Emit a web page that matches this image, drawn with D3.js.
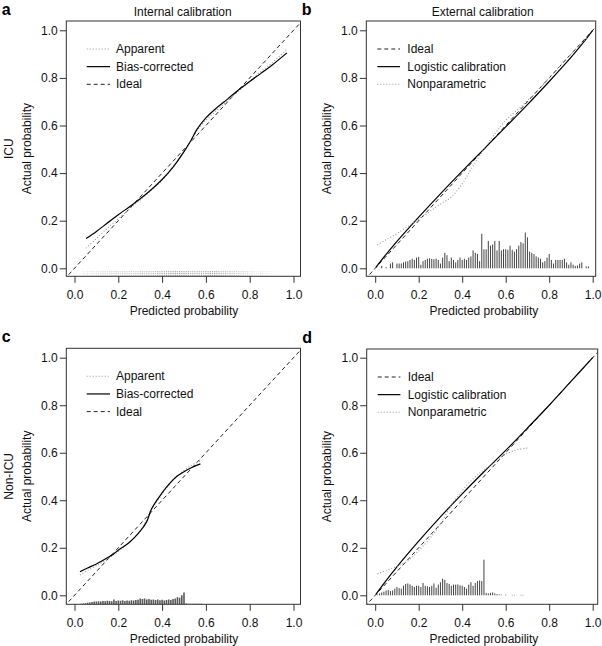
<!DOCTYPE html>
<html><head><meta charset="utf-8">
<script src="https://cdn.jsdelivr.net/npm/d3@7"></script>
<style>
body{margin:0;background:#fff;}
svg{display:block;font-family:"Liberation Sans",Arial,Helvetica,sans-serif;}
</style></head><body>
<svg id="chart" width="602" height="646"></svg>
<script>
// ---------- data ----------
const tickValues = [0, 0.2, 0.4, 0.6, 0.8, 1.0];
const tickLabels = ["0.0", "0.2", "0.4", "0.6", "0.8", "1.0"];
const panelLetters = ["a", "b", "c", "d"];
const columnTitles = ["Internal calibration", "External calibration"];
const rowLabels = ["ICU", "Non-ICU"];
const xAxisLabel = "Predicted probability";
const yAxisLabel = "Actual probability";
const internalLegend = ["Apparent", "Bias-corrected", "Ideal"];
const externalLegend = ["Ideal", "Logistic calibration", "Nonparametric"];
const idealLine = [[-0.2, -0.2], [1.2, 1.2]];

// panel a: internal calibration, ICU
const aApparent = [[0.053,0.085],[0.1,0.125],[0.15,0.168],[0.2,0.208],[0.25,0.248],[0.3,0.287],[0.35,0.328],[0.4,0.37],[0.45,0.425],[0.5,0.49],[0.53,0.53],[0.56,0.578],[0.6,0.622],[0.65,0.665],[0.7,0.705],[0.75,0.745],[0.8,0.785],[0.85,0.825],[0.9,0.862],[0.97,0.92]];
const aBiasCorrected = [[0.053,0.125],[0.1,0.155],[0.15,0.19],[0.2,0.225],[0.25,0.258],[0.3,0.292],[0.35,0.33],[0.4,0.373],[0.45,0.425],[0.5,0.49],[0.53,0.535],[0.56,0.585],[0.6,0.632],[0.65,0.675],[0.7,0.712],[0.75,0.75],[0.8,0.785],[0.85,0.818],[0.9,0.852],[0.97,0.905]];
const aRugStart = 0.04, aRugStep = 0.01;
const aRug = [0.15,0.1,0.2,0.15,0.25,0.2,0.25,0.3,0.2,0.3,0.3,0.25,0.3,0.35,0.3,0.35,0.35,0.3,0.4,0.35,0.35,0.4,0.4,0.35,0.45,0.4,0.45,0.5,0.4,0.45,0.5,0.45,0.55,0.5,0.6,0.55,0.65,0.6,0.7,0.65,0.75,0.7,0.8,0.75,0.8,0.7,0.75,0.65,0.7,0.6,0.6,0.55,0.6,0.55,0.65,0.6,0.7,0.65,0.75,0.7,0.75,0.65,0.6,0.55,0.5,0.55,0.45,0.5,0.4,0.45,0.35,0.4,0.3,0.35,0.25,0.3,0.2,0.25,0.2,0.2,0.15,0.2,0.15,0.1,0.15,0.1,0.1,0.05,0.05,0.05,0.03];

// panel b: external calibration, ICU
const bLogistic = [[0.003,0.004],[0.05,0.058],[0.1,0.113],[0.2,0.215],[0.3,0.313],[0.4,0.408],[0.5,0.501],[0.6,0.594],[0.7,0.688],[0.8,0.785],[0.9,0.886],[0.96,0.952],[1.0,1.0]];
const bNonparametric = [[0.01,0.098],[0.05,0.12],[0.1,0.146],[0.15,0.176],[0.2,0.207],[0.25,0.238],[0.3,0.27],[0.35,0.3],[0.4,0.355],[0.45,0.43],[0.5,0.5],[0.55,0.565],[0.6,0.622],[0.65,0.663],[0.7,0.704],[0.8,0.8],[0.9,0.9],[0.98,0.975]];
const bHistStart = 0.01, bHistStep = 0.01;
const bHist = [0,0,0.01,0,0.005,0,0.02,0.025,0,0.02,0.02,0.02,0.025,0.028,0.03,0.035,0.04,0.035,0.045,0.048,0.015,0.03,0.035,0.04,0.042,0.04,0.038,0.04,0.035,0.02,0.045,0.065,0.055,0.03,0.045,0.035,0.025,0.035,0.045,0.035,0.04,0.035,0.045,0.05,0.075,0.065,0.06,0.03,0.145,0.08,0.08,0.115,0.095,0.1,0.115,0.075,0.115,0.075,0.08,0.08,0.078,0.095,0.078,0.07,0.08,0.095,0.11,0.105,0.15,0.13,0.07,0.065,0.06,0.05,0.045,0.04,0.025,0.03,0.045,0.06,0.035,0.02,0.035,0.035,0.035,0.035,0.04,0.025,0.015,0.025,0.015,0.01,0.012,0.02,0.025,0,0.008,0.008];

// panel c: internal calibration, non-ICU
const cApparent = [[0.025,0.085],[0.06,0.105],[0.1,0.125],[0.15,0.152],[0.2,0.185],[0.25,0.222],[0.3,0.27],[0.35,0.357],[0.38,0.4],[0.42,0.452],[0.46,0.495],[0.5,0.525],[0.54,0.55],[0.575,0.565]];
const cBiasCorrected = [[0.025,0.099],[0.06,0.115],[0.1,0.132],[0.15,0.158],[0.18,0.175],[0.2,0.19],[0.25,0.222],[0.3,0.27],[0.33,0.31],[0.35,0.36],[0.38,0.405],[0.42,0.455],[0.46,0.495],[0.5,0.52],[0.54,0.54],[0.575,0.553]];
const cSpikeStart = 0.03, cSpikeStep = 0.01;
const cSpike = [0.002,0.003,0.004,0.006,0.008,0.01,0.012,0.012,0.013,0.012,0.014,0.013,0.015,0.014,0.013,0.02,0.014,0.016,0.015,0.017,0.014,0.016,0.015,0.017,0.016,0.018,0.019,0.024,0.022,0.024,0.02,0.022,0.019,0.02,0.018,0.02,0.017,0.019,0.016,0.018,0.02,0.018,0.022,0.024,0.03,0.028,0.038,0.05,0.003,0.002,0.002,0.002,0.002,0.002,0.002,0.002];

// panel d: external calibration, non-ICU
const dLogistic = [[0.003,0.004],[0.05,0.062],[0.1,0.12],[0.2,0.228],[0.3,0.33],[0.4,0.427],[0.5,0.52],[0.6,0.61],[0.7,0.704],[0.8,0.8],[0.9,0.9],[1.0,1.0]];
const dNonparametric = [[0.01,0.09],[0.05,0.105],[0.1,0.122],[0.15,0.145],[0.2,0.188],[0.25,0.238],[0.3,0.3],[0.35,0.38],[0.4,0.44],[0.45,0.49],[0.5,0.528],[0.55,0.56],[0.6,0.594],[0.65,0.612],[0.7,0.62]];
const dHistStart = 0.01, dHistStep = 0.01;
const dHist = [0.003,0.008,0.012,0.015,0.02,0.022,0.018,0.02,0.028,0.035,0.03,0.028,0.04,0.048,0.05,0.046,0.04,0.035,0.04,0.04,0.035,0.052,0.04,0.038,0.035,0.04,0.05,0.032,0.045,0.055,0.07,0.065,0.052,0.048,0.04,0.045,0.045,0.046,0.042,0.04,0.035,0.028,0.045,0.055,0.04,0.052,0.06,0.062,0.06,0.15,0.01,0.008,0.01,0.012,0.008,0.005,0.004,0.003,0,0.003,0,0,0.002,0.002,0,0,0.002,0.002];

// ---------- layout ----------
const FONT = 12;
const layout = [
  {left:66.3, right:300.5, top:21,   bottom:276.3, x0:74.5,  x1:293.5, y0:268.3, y1:30.3},
  {left:366.3, right:595.7, top:21,  bottom:276.3, x0:375.2, x1:592.7, y0:268.3, y1:30.3},
  {left:66.3, right:300.5, top:348.3, bottom:604.3, x0:74.5,  x1:293.5, y0:595.3, y1:357.7},
  {left:366.7, right:597.7, top:349, bottom:604.3, x0:375.2, x1:592.7, y0:595.3, y1:357.7}
];

const svg = d3.select("#chart");
const styles = {
  ideal: {stroke:"#222", width:1, dash:"4,3"},
  solid: {stroke:"#000", width:1.2, dash:null},
  dotted:{stroke:"#999", width:1.1, dash:"1,2"}
};

function makePanel(i) {
  const L = layout[i];
  const x = d3.scaleLinear().domain([0,1]).range([L.x0, L.x1]);
  const y = d3.scaleLinear().domain([0,1]).range([L.y0, L.y1]);
  const g = svg.append("g");
  const clipId = "clip" + i;
  svg.append("clipPath").attr("id", clipId).append("rect")
    .attr("x", L.left).attr("y", L.top).attr("width", L.right - L.left).attr("height", L.bottom - L.top);
  const plot = g.append("g").attr("clip-path", `url(#${clipId})`);
  const xa = g.append("g").attr("transform", `translate(0,${L.bottom})`)
    .call(d3.axisBottom(x).tickValues(tickValues).tickFormat((d,k)=>tickLabels[k]).tickSize(6.5).tickPadding(7.5));
  const ya = g.append("g").attr("transform", `translate(${L.left},0)`)
    .call(d3.axisLeft(y).tickValues(tickValues).tickFormat((d,k)=>tickLabels[k]).tickSize(6.5).tickPadding(2));
  [xa, ya].forEach(a => {
    a.select(".domain").remove();
    a.selectAll(".tick line").attr("stroke", "#333");
    a.selectAll("text").attr("font-size", FONT).attr("fill", "#111")
      .attr("font-family", '"Liberation Sans",Arial,sans-serif');
  });
  g.append("rect").attr("x", L.left).attr("y", L.top)
    .attr("width", L.right - L.left).attr("height", L.bottom - L.top)
    .attr("fill", "none").attr("stroke", "#333").attr("stroke-width", 1);
  const cx = (L.x0 + L.x1) / 2, cy = (L.top + L.bottom) / 2;
  g.append("text").attr("x", cx).attr("y", L.bottom + 34.5).attr("text-anchor","middle")
    .attr("dominant-baseline","central").attr("font-size", FONT).attr("fill","#111").text(xAxisLabel);
  g.append("text").attr("transform", `translate(${L.left - 39.6},${cy}) rotate(-90)`)
    .attr("text-anchor","middle").attr("dominant-baseline","central")
    .attr("font-size", FONT).attr("fill","#111").text(yAxisLabel);
  g.append("text").attr("x", L.left - 64.5).attr("y", L.top - 6.5)
    .attr("font-size", 16).attr("font-weight","bold").attr("fill","#000").text(panelLetters[i]);
  return {x, y, L, g, plot};
}

function drawLine(P, data, st) {
  const line = d3.line().x(d => P.x(d[0])).y(d => P.y(d[1])).curve(d3.curveCatmullRom.alpha(0.5));
  const p = P.plot.append("path").datum(data).attr("d", line)
    .attr("fill","none").attr("stroke", st.stroke).attr("stroke-width", st.width);
  if (st.dash) p.attr("stroke-dasharray", st.dash);
}

function drawLegend(P, labels, styleList, lineX1, lineX2, textX) {
  const L = P.L;
  labels.forEach((lab, k) => {
    const yy = L.top + 28 + k * 17.65;
    const st = styleList[k];
    const l = P.g.append("line").attr("x1", L.left + lineX1).attr("x2", L.left + lineX2)
      .attr("y1", yy).attr("y2", yy).attr("stroke", st.stroke).attr("stroke-width", st.width);
    if (st.dash) l.attr("stroke-dasharray", st.dash);
    P.g.append("text").attr("x", L.left + textX).attr("y", yy).attr("dominant-baseline","central")
      .attr("font-size", FONT).attr("fill","#111").text(lab);
  });
}

function drawHist(P, values, start, step) {
  P.plot.append("g").selectAll("line").data(values).join("line")
    .attr("x1", (d,k) => P.x(start + k*step)).attr("x2", (d,k) => P.x(start + k*step))
    .attr("y1", P.y(0)).attr("y2", d => P.y(d))
    .attr("stroke", "#444").attr("stroke-width", 1)
    .attr("opacity", d => d > 0 ? 1 : 0);
}

function drawSpikes(P, values, start, step) {
  const base = P.y.invert(P.L.bottom);
  P.plot.append("g").selectAll("line").data(values).join("line")
    .attr("x1", (d,k) => P.x(start + k*step)).attr("x2", (d,k) => P.x(start + k*step))
    .attr("y1", P.L.bottom).attr("y2", d => P.y(base + d))
    .attr("stroke", "#5a5a5a").attr("stroke-width", 1.6);
}

function drawRug(P, values, start, step) {
  const base = P.y.invert(P.L.bottom);
  P.plot.append("g").selectAll("line").data(values).join("line")
    .attr("x1", (d,k) => P.x(start + k*step)).attr("x2", (d,k) => P.x(start + k*step))
    .attr("y1", P.L.bottom).attr("y2", P.y(base + 0.022))
    .attr("stroke", "#777").attr("stroke-width", 1.3)
    .attr("stroke-dasharray", "1,1")
    .attr("opacity", d => Math.min(1, d * 1.1));
}

const A = makePanel(0);
drawRug(A, aRug, aRugStart, aRugStep);
drawLine(A, idealLine, styles.ideal);
drawLine(A, aApparent, styles.dotted);
drawLine(A, aBiasCorrected, styles.solid);
drawLegend(A, internalLegend, [styles.dotted, styles.solid, styles.ideal], 20.4, 43.7, 49.7);

const B = makePanel(1);
drawHist(B, bHist, bHistStart, bHistStep);
drawLine(B, idealLine, styles.ideal);
drawLine(B, bLogistic, styles.solid);
drawLine(B, bNonparametric, styles.dotted);
drawLegend(B, externalLegend, [styles.ideal, styles.solid, styles.dotted], 11, 33.7, 41);

const C = makePanel(2);
drawSpikes(C, cSpike, cSpikeStart, cSpikeStep);
drawLine(C, idealLine, styles.ideal);
drawLine(C, cApparent, styles.dotted);
drawLine(C, cBiasCorrected, styles.solid);
drawLegend(C, internalLegend, [styles.dotted, styles.solid, styles.ideal], 20.4, 43.7, 49.7);

const D = makePanel(3);
drawHist(D, dHist, dHistStart, dHistStep);
drawLine(D, idealLine, styles.ideal);
drawLine(D, dLogistic, styles.solid);
drawLine(D, dNonparametric, styles.dotted);
drawLegend(D, externalLegend, [styles.ideal, styles.solid, styles.dotted], 11, 33.7, 41);

svg.append("text").attr("x", 182.7).attr("y", 11.7).attr("text-anchor","middle").attr("dominant-baseline","central")
  .attr("font-size", FONT).attr("fill","#111").text(columnTitles[0]);
svg.append("text").attr("x", 482.7).attr("y", 11.7).attr("text-anchor","middle").attr("dominant-baseline","central")
  .attr("font-size", FONT).attr("fill","#111").text(columnTitles[1]);
svg.append("text").attr("transform", `translate(8.5,${(layout[0].top+layout[0].bottom)/2}) rotate(-90)`)
  .attr("text-anchor","middle").attr("dominant-baseline","central").attr("font-size", FONT).attr("fill","#111").text(rowLabels[0]);
svg.append("text").attr("transform", `translate(8.5,${(layout[2].top+layout[2].bottom)/2}) rotate(-90)`)
  .attr("text-anchor","middle").attr("dominant-baseline","central").attr("font-size", FONT).attr("fill","#111").text(rowLabels[1]);
</script>
</body></html>
